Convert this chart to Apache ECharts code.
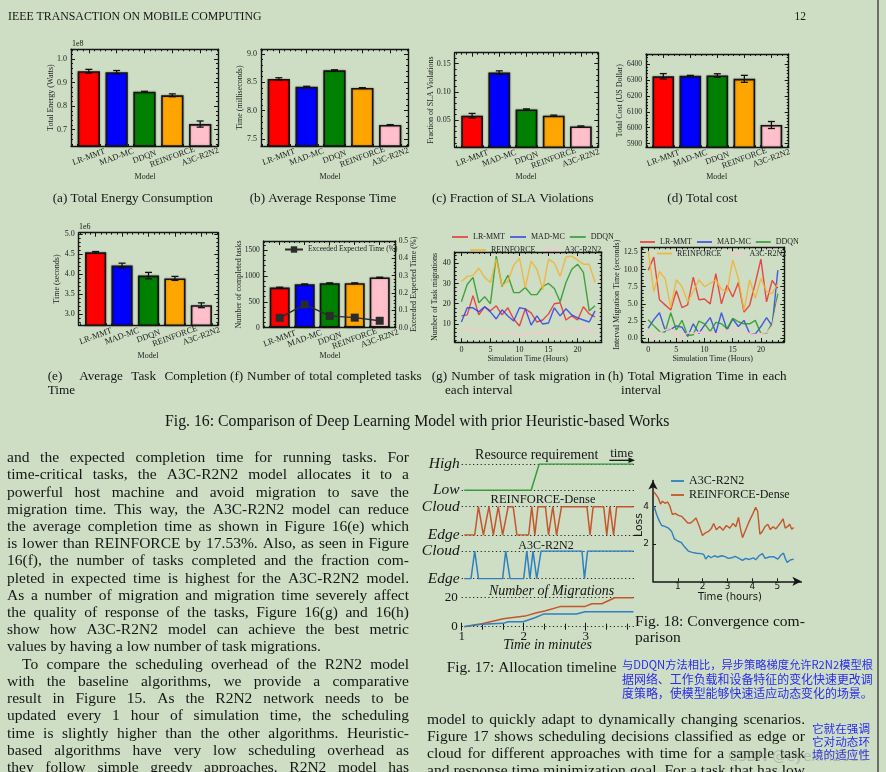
<!DOCTYPE html>
<html>
<head>
<meta charset="utf-8">
<title>Fig. 16 - 18</title>
<script src="https://cdn.jsdelivr.net/npm/echarts@6.0.0/dist/echarts.min.js"></script>
<style>
html, body { margin: 0; padding: 0; background: #cddec4; }
#page { width: 886px; height: 772px; }
</style>
</head>
<body>
<div id="page"></div>
<script>
// ---- data -------------------------------------------------------------
const models = ['LR-MMT', 'MAD-MC', 'DDQN', 'REINFORCE', 'A3C-R2N2'];

// (a)-(f): means and error bars per model
const energy = [0.948, 0.944, 0.861, 0.846, 0.724];
const energyErr = [0.008, 0.007, 0.002, 0.006, 0.013];
const respTime = [8.56, 8.42, 8.71, 8.40, 7.75];
const respErr = [0.02, 0.01, 0.01, 0.006, 0.006];
const slaFrac = [0.058, 0.134, 0.069, 0.058, 0.039];
const slaErr = [0.004, 0.003, 0.001, 0.001, 0.001];
const totalCost = [6323, 6326, 6328, 6307, 6017];
const costErr = [17, 3, 11, 22, 22];
const complTime = [4.54, 4.21, 3.96, 3.89, 3.22];
const complErr = [0.02, 0.06, 0.08, 0.05, 0.06];
const doneTasks = [775, 840, 860, 860, 970];
const doneErr = [8, 6, 6, 6, 6];
const exceeded = [0.057, 0.134, 0.068, 0.058, 0.040];

// (g), (h): per hour
const hours = [0, 1, 2, 3, 4, 5, 6, 7, 8, 9, 10, 11, 12, 13, 14, 15, 16, 17, 18, 19, 20, 21, 22, 23];
const migLR = [14, 14.5, 24, 14.5, 18.5, 16.5, 19, 14.5, 18, 12.5, 9, 17.5, 15.5, 11, 12, 15, 20, 20.5, 12, 14, 12, 18.5, 15, 13.5];
const migMAD = [11, 18, 18, 16, 18.5, 16, 12.5, 17, 14, 11.5, 18, 17.5, 9.5, 14, 10, 10.5, 18, 14, 17.5, 14.5, 13, 12, 11, 16.5];
const migDDQN = [21, 29.5, 33, 20.5, 23.5, 20, 43.5, 28.5, 34, 25.5, 25.5, 28, 24.5, 24.5, 28.5, 30, 27.5, 21, 30.5, 37, 39.5, 35.5, 16.5, 19];
const migRF = [31, 33.5, 34, 37.5, 33, 30.5, 42, 29, 31, 39, 42.5, 28, 41, 37, 27, 42, 40, 33.5, 43, 43.5, 41.5, 39.5, 39.5, 30.5];
const migA3C = [6, 8.5, 6, 7, 6, 6, 5.5, 6, 5.5, 5.5, 5, 4.5, 6, 5, 7.5, 5.5, 5, 7, 6, 8.5, 5.5, 9, 7, 5.5];
const mtLR = [9.9, 11.8, 5.6, 4.85, 4.1, 6.9, 4.45, 4.85, 8.9, 5.6, 5.7, 5.0, 9.4, 5.0, 7.7, 6.0, 8.1, 3.8, 4.8, 8.0, 11.5, 5.3, 8.4, 7.3];
const mtMAD = [1.45, 2.7, 3.7, 1.2, 1.3, 1.8, 1.6, 0.25, 2.1, 0.7, 1.9, 3.0, 0.8, 3.7, 1.2, 2.8, 1.7, 2.6, 0.7, 0.6, 1.7, 3.0, 1.8, 9.9];
const mtDDQN = [2.7, 1.8, 1.0, 0.9, 3.7, 1.2, 2.6, 0.4, 0.5, 2.5, 2.1, 1.0, 2.3, 2.1, 1.4, 2.9, 2.4, 2.1, 2.1, 2.6, 0.7, 0.7, 2.2, 6.5];
const mtRF = [12.7, 6.8, 9.7, 8.7, 4.5, 8.5, 7.5, 5.3, 6.8, 8.5, 7.5, 8.0, 8.5, 7.1, 6.8, 11.4, 8.7, 4.0, 8.5, 5.8, 8.7, 6.8, 6.5, 8.0];
const mtA3C = [0.7, 0.1, 0.8, 1.2, 1.4, 0.5, 0.2, 0.8, 0.7, 0.9, 0.7, 0.9, 0.6, 0.9, 1.2, 1.2, 1.2, 1.0, 0.7, 0.5, 0.7, 0.8, 1.7, 5.6];

// Fig. 17: [minute, level]; level 0 = Low/Edge, 1 = High/Cloud
const resource = [[1.04, 0], [2.12, 0], [2.25, 1], [3.77, 1]];
const allocRF = [[1.04, 0], [1.21, 0], [1.27, 1], [1.35, 0], [1.44, 1], [1.51, 0], [1.59, 1], [1.66, 0], [1.75, 1], [1.83, 1], [1.89, 0], [2.08, 0], [2.13, 1], [2.18, 0], [2.23, 1], [2.35, 1], [2.40, 0], [2.47, 1], [2.53, 0], [2.61, 1], [3.02, 1], [3.07, 0], [3.12, 1], [3.29, 1], [3.34, 0], [3.39, 1], [3.45, 0], [3.50, 1], [3.77, 1]];
const allocA3C = [[1.04, 0], [1.15, 0], [1.21, 1], [1.27, 0], [1.66, 0], [1.71, 1], [1.78, 0], [2.00, 0], [2.05, 1], [2.10, 0], [2.15, 1], [2.21, 0], [2.28, 1], [2.94, 1], [2.98, 0], [3.03, 1], [3.77, 1]];
const migCountRF = [[1.04, 0], [1.24, 1.2], [1.67, 5.5], [2.02, 7.3], [2.21, 9.6], [2.34, 10.8], [2.60, 14], [2.99, 14], [3.10, 15.8], [3.26, 15.8], [3.47, 20], [3.77, 20]];
const migCountA3C = [[1.04, 0], [1.24, 1.6], [1.67, 2.3], [1.75, 3.4], [1.99, 3.4], [2.18, 6.2], [2.32, 8.7], [2.85, 8.7], [2.99, 10.3], [3.77, 10.3]];

// Fig. 18: [hours, loss]
const lossA3C = [[0.04, 4.02], [0.15, 3.57], [0.26, 3.21], [0.35, 2.99], [0.48, 2.94], [0.62, 2.85], [0.75, 2.67], [0.86, 2.27], [0.99, 2.16], [1.13, 2.09], [1.26, 1.86], [1.42, 1.62], [1.58, 1.55], [1.76, 1.50], [1.93, 1.48], [2.04, 1.44], [2.12, 1.19], [2.23, 1.37], [2.34, 1.26], [2.47, 1.37], [2.60, 1.30], [2.77, 1.37], [2.90, 1.32], [3.03, 1.23], [3.17, 1.26], [3.30, 1.33], [3.46, 1.23], [3.60, 1.12], [3.73, 1.23], [3.87, 1.17], [4.04, 1.26], [4.13, 1.15], [4.27, 1.37], [4.40, 1.48], [4.51, 1.23], [4.67, 1.30], [4.85, 1.32], [5.02, 1.19], [5.15, 1.41], [5.25, 1.51], [5.32, 1.23], [5.40, 1.01], [5.52, 1.14], [5.66, 1.19]];
const lossRF = [[0.04, 4.79], [0.12, 4.76], [0.21, 4.47], [0.30, 4.14], [0.38, 4.29], [0.48, 4.18], [0.59, 4.25], [0.68, 4.02], [0.78, 3.57], [0.89, 3.64], [1.02, 3.53], [1.15, 3.48], [1.29, 3.28], [1.40, 3.12], [1.52, 3.12], [1.62, 3.24], [1.73, 3.39], [1.85, 2.99], [1.99, 2.45], [2.09, 2.58], [2.23, 2.67], [2.34, 2.81], [2.44, 3.10], [2.55, 2.76], [2.68, 2.94], [2.82, 2.74], [2.95, 2.99], [3.09, 2.85], [3.22, 3.10], [3.33, 2.92], [3.44, 3.42], [3.52, 2.81], [3.60, 2.34], [3.68, 2.41], [3.76, 2.85], [3.87, 3.21], [4.00, 3.57], [4.13, 3.96], [4.21, 3.75], [4.30, 2.52], [4.40, 2.67], [4.51, 2.94], [4.62, 3.06], [4.72, 2.77], [4.83, 2.92], [4.94, 2.81], [5.05, 2.99], [5.15, 3.17], [5.23, 3.35], [5.32, 2.85], [5.42, 2.94], [5.50, 3.06], [5.58, 2.79], [5.66, 2.88]];

// tick labels
const modelTicks = [0, 1, 2, 3, 4];
const energyTicks = [0.7, 0.8, 0.9, 1.0];
const respTicks = [7.5, 8.0, 8.5, 9.0];
const slaTicks = [0.05, 0.10, 0.15];
const costTicks = [5900, 6000, 6100, 6200, 6300, 6400];
const complTicks = [3.0, 3.5, 4.0, 4.5, 5.0];
const doneTicks = [0, 500, 1000, 1500];
const exceededTicks = [0, 0.1, 0.2, 0.3, 0.4, 0.5];
const hourTicks = [0, 5, 10, 15, 20];
const migTicks = [10, 20, 30, 40];
const mtTicks = [0, 2.5, 5.0, 7.5, 10.0, 12.5];
const minuteTicks = [1, 2, 3];
const lossHourTicks = [1, 2, 3, 4, 5];
const lossTicks = [2, 4];

// ---- styles -----------------------------------------------------------
const SERIF = '"Liberation Serif", "DejaVu Serif", serif';
const SANS = '"DejaVu Sans", sans-serif';
const CJK = '"Noto Sans CJK SC", sans-serif';
const INK = '#161616';
const barColors = ['#ff0000', '#0000ff', '#008000', '#ffa500', '#ffc0cb'];
const lineColors = ['rgba(236,40,40,0.82)', 'rgba(40,60,236,0.82)', 'rgba(40,150,40,0.85)', 'rgba(244,178,52,0.88)', 'rgba(250,196,206,0.95)'];
const figRed = '#c4562c', figBlue = '#2f7fc1', figGreen = '#3a9a3a';
const TICK_FONT = 8;

const grid = [], xAxis = [], yAxis = [], series = [], els = [];

function steps(a, b, d) {
  const out = [];
  for (let v = a; v <= b + d / 1000; v += d) out.push(Math.round(v * 1e6) / 1e6);
  return out;
}

function labelStyle(s, values) {
  return Object.assign({show: true, customValues: values, formatter: s.fmt, margin: 4, interval: 0,
    showMinLabel: true, showMaxLabel: true, hideOverlap: false,
    fontSize: TICK_FONT, fontFamily: SERIF, color: '#222'}, s.label || {});
}

function axis(gi, pos, s, labels, minor) {
  const a = {
    type: 'value', gridIndex: gi, position: pos, min: s.min, max: s.max,
    axisLine: {show: !minor, onZero: false, lineStyle: {color: INK, width: 1.4}},
    axisTick: {show: true, inside: true, length: minor ? 2 : 4, customValues: minor ? s.minor : s.major,
      lineStyle: {color: INK, width: 1}},
    axisLabel: {show: false},
    splitLine: {show: false}
  };
  if (labels) a.axisLabel = labelStyle(s, s.split ? s.major.filter((v, i) => i % 2 === 0) : s.major);
  return a;
}

// label-only axis for the odd category names, so none of them is dropped
function oddLabels(gi, s) {
  return {type: 'value', gridIndex: gi, position: 'bottom', min: s.min, max: s.max,
    axisLine: {show: false, onZero: false}, axisTick: {show: false}, splitLine: {show: false},
    axisLabel: labelStyle(s, s.major.filter((v, i) => i % 2 === 1))};
}

function panel(box, xs, ys, ys2) {
  const gi = grid.length;
  grid.push({left: box[0], top: box[1], width: box[2], height: box[3], show: false, outerBoundsMode: 'none'});
  const xi = xAxis.length;
  xAxis.push(axis(gi, 'bottom', xs, true), axis(gi, 'bottom', xs, false, true),
    axis(gi, 'top', xs, false), axis(gi, 'top', xs, false, true));
  if (xs.split) xAxis.push(oddLabels(gi, xs));
  const yi = yAxis.length;
  yAxis.push(axis(gi, 'left', ys, true), axis(gi, 'left', ys, false, true));
  const yi2 = yAxis.length;
  const r = ys2 || ys;
  yAxis.push(axis(gi, 'right', r, !!ys2), axis(gi, 'right', r, false, true));
  return {xi, yi, yi2};
}

const modelAxis = {min: -0.64, max: 4.64, major: modelTicks, minor: steps(-0.6, 4.6, 0.2), split: true,
  fmt: v => models[Math.round(v)],
  label: {rotate: 20, align: 'center', verticalAlign: 'middle', margin: 11, fontSize: 8.5}};
const hourAxis = {min: -1.15, max: 24.15, major: hourTicks, minor: steps(-1, 24, 1), fmt: v => String(v)};

function errRender(params, api) {
  const x = api.value(0);
  const lo = api.coord([x, api.value(1)]);
  const hi = api.coord([x, api.value(2)]);
  const c = 3.5;
  const st = {stroke: '#111', lineWidth: 1.3};
  return {type: 'group', children: [
    {type: 'line', shape: {x1: lo[0], y1: lo[1], x2: hi[0], y2: hi[1]}, style: st},
    {type: 'line', shape: {x1: lo[0] - c, y1: lo[1], x2: lo[0] + c, y2: lo[1]}, style: st},
    {type: 'line', shape: {x1: hi[0] - c, y1: hi[1], x2: hi[0] + c, y2: hi[1]}, style: st}
  ]};
}

function bars(p, vals, errs) {
  series.push({
    type: 'bar', xAxisIndex: p.xi, yAxisIndex: p.yi, barWidth: '80%', clip: true,
    itemStyle: {borderColor: '#141414', borderWidth: 1.6, shadowColor: 'rgba(0,0,0,0.35)', shadowBlur: 2},
    data: vals.map((v, i) => ({value: [i, v], itemStyle: {color: barColors[i]}}))
  });
  series.push({
    type: 'custom', xAxisIndex: p.xi, yAxisIndex: p.yi, z: 5, clip: false, renderItem: errRender,
    data: vals.map((v, i) => [i, v - errs[i], v + errs[i]])
  });
}

function lines(p, arrs) {
  arrs.forEach((arr, k) => series.push({
    type: 'line', name: models[k], xAxisIndex: p.xi, yAxisIndex: p.yi, symbol: 'none',
    lineStyle: {color: lineColors[k], width: 1.4}, itemStyle: {color: lineColors[k]},
    data: hours.map((h, i) => [h, arr[i]])
  }));
}

// ---- Fig. 16 panels -----------------------------------------------------
const pA = panel([71, 49.3, 147, 96.7], modelAxis,
  {min: 0.631, max: 1.041, major: energyTicks, minor: steps(0.64, 1.04, 0.02), fmt: v => v.toFixed(1)});
bars(pA, energy, energyErr);
const pB = panel([261, 49.3, 147, 96.7], modelAxis,
  {min: 7.38, max: 9.08, major: respTicks, minor: steps(7.4, 9.0, 0.1), fmt: v => v.toFixed(1)});
bars(pB, respTime, respErr);
const pC = panel([454.7, 52.7, 143.6, 94.6], modelAxis,
  {min: 0.0023, max: 0.169, major: slaTicks, minor: steps(0.01, 0.16, 0.01), fmt: v => v.toFixed(2)});
bars(pC, slaFrac, slaErr);
const pD = panel([646, 54, 142.7, 93.3], modelAxis,
  {min: 5877, max: 6463, major: costTicks, minor: steps(5880, 6460, 20), fmt: v => String(v), label: {fontSize: 7.5}});
bars(pD, totalCost, costErr);
const pE = panel([78.7, 232.7, 139.6, 92.6], modelAxis,
  {min: 2.72, max: 5.03, major: complTicks, minor: steps(2.8, 5.0, 0.1), fmt: v => v.toFixed(1)});
bars(pE, complTime, complErr);
const pF = panel([263.7, 241, 132, 86.7], modelAxis,
  {min: 0, max: 1675, major: doneTicks, minor: steps(0, 1600, 100), fmt: v => String(v), label: {fontSize: 7.5}},
  {min: 0, max: 0.5, major: exceededTicks, minor: steps(0, 0.5, 0.02), fmt: v => v.toFixed(1), label: {fontSize: 7.5, margin: 3}});
bars(pF, doneTasks, doneErr);
series.push({
  type: 'line', name: 'Exceeded Expected Time (%)', xAxisIndex: pF.xi, yAxisIndex: pF.yi2, z: 6,
  symbol: 'rect', symbolSize: 8, lineStyle: {color: '#2b2b2b', width: 1.4}, itemStyle: {color: '#2b2b2b'},
  data: exceeded.map((v, i) => [i, v])
});
const pG = panel([454.7, 252, 147, 90.3], hourAxis,
  {min: 1, max: 45.5, major: migTicks, minor: steps(2, 44, 2), fmt: v => String(v)});
lines(pG, [migLR, migMAD, migDDQN, migRF, migA3C]);
const pH = panel([641.7, 247.3, 142.6, 94.7], hourAxis,
  {min: -0.55, max: 13.23, major: mtTicks, minor: steps(-0.5, 13, 0.5), fmt: v => v.toFixed(1)});
lines(pH, [mtLR, mtMAD, mtDDQN, mtRF, mtA3C]);

// ---- Fig. 17 timeline ---------------------------------------------------
function tlPanel(top, height, ymax, names, extraLabel) {
  const gi = grid.length;
  grid.push({left: 461.7, top: top, width: 173.6, height: height, show: false, outerBoundsMode: 'none'});
  const xi = xAxis.length;
  xAxis.push({type: 'value', gridIndex: gi, min: 1, max: 3.8, show: false});
  const yi = yAxis.length;
  yAxis.push({
    type: 'value', gridIndex: gi, min: 0, max: ymax, interval: ymax,
    axisLine: {show: false}, axisTick: {show: false},
    axisLabel: Object.assign({formatter: v => names[v === 0 ? 0 : 1], margin: 2, fontSize: 15.5,
      showMinLabel: true, showMaxLabel: true, fontStyle: 'italic', fontFamily: SERIF, color: INK}, extraLabel || {}),
    splitLine: {show: true, lineStyle: {type: [1.2, 2.6], color: '#222', width: 1.1}}
  });
  return {gi, xi, yi};
}
function tlLine(p, data, color) {
  series.push({type: 'line', xAxisIndex: p.xi, yAxisIndex: p.yi, symbol: 'none', z: 4,
    lineStyle: {color: color, width: 1.5}, data: data});
}
const tRes = tlPanel(464, 26.3, 1, ['Low', 'High']);
tlLine(tRes, resource, figGreen);
const tRF = tlPanel(506.7, 28.3, 1, ['Edge', 'Cloud']);
tlLine(tRF, allocRF, figRed);
const tA3C = tlPanel(551, 27.7, 1, ['Edge', 'Cloud']);
tlLine(tA3C, allocA3C, figBlue);
const tMig = tlPanel(597.7, 29, 20, ['0', '20'], {fontStyle: 'normal', fontSize: 13, margin: 4});
tlLine(tMig, migCountRF, figRed);
tlLine(tMig, migCountA3C, figBlue);
[[false, 4, minuteTicks, true], [true, 4, minuteTicks, false], [false, 3, steps(1, 3.67, 1 / 3), false], [true, 3, steps(1, 3.67, 1 / 3), false]]
  .forEach(([inside, len, vals, lab]) => xAxis.push({
    type: 'value', gridIndex: tMig.gi, position: 'bottom', min: 1, max: 3.8,
    axisLine: {show: false, onZero: false},
    axisTick: {show: true, inside: inside, length: len, customValues: vals, lineStyle: {color: INK, width: 1}},
    axisLabel: lab ? {show: true, customValues: minuteTicks, margin: 3, interval: 0, showMinLabel: true, showMaxLabel: true,
      fontSize: 13, fontFamily: SERIF, color: INK} : {show: false},
    splitLine: {show: false}
  }));

// ---- Fig. 18 convergence ------------------------------------------------
const cg = grid.length;
grid.push({left: 653, top: 480.5, width: 148.4, height: 100.8, show: false, outerBoundsMode: 'none'});
const cxi = xAxis.length;
xAxis.push({
  type: 'value', gridIndex: cg, min: 0, max: 5.97, position: 'bottom',
  axisLine: {show: true, onZero: false, symbol: ['none', 'arrow'], symbolSize: [7, 9], lineStyle: {color: INK, width: 1.5}},
  axisTick: {show: true, inside: true, length: 3, customValues: lossHourTicks, lineStyle: {color: INK}},
  axisLabel: {show: true, customValues: lossHourTicks, interval: 0, margin: 1, fontSize: 9, fontFamily: SANS, color: INK},
  splitLine: {show: false}
});
const cyi = yAxis.length;
yAxis.push({
  type: 'value', gridIndex: cg, min: 0, max: 5.4, position: 'left',
  axisLine: {show: true, onZero: false, symbol: ['none', 'arrow'], symbolSize: [7, 9], lineStyle: {color: INK, width: 1.5}},
  axisTick: {show: true, inside: true, length: 3, customValues: lossTicks, lineStyle: {color: INK}},
  axisLabel: {show: true, customValues: lossTicks, interval: 0, margin: 4, fontSize: 9, fontFamily: SANS, color: INK},
  splitLine: {show: false}
});
series.push({type: 'line', name: 'A3C-R2N2 ', xAxisIndex: cxi, yAxisIndex: cyi, symbol: 'none',
  lineStyle: {color: figBlue, width: 1.4}, itemStyle: {color: figBlue}, data: lossA3C});
series.push({type: 'line', name: 'REINFORCE-Dense', xAxisIndex: cxi, yAxisIndex: cyi, symbol: 'none',
  lineStyle: {color: figRed, width: 1.4}, itemStyle: {color: figRed}, data: lossRF});

// ---- texts --------------------------------------------------------------
const mctx = document.createElement('canvas').getContext('2d');
function tw(str, size, fam, italic) {
  mctx.font = (italic ? 'italic ' : '') + size + 'px ' + fam;
  return mctx.measureText(str).width;
}
function T(str, x, y, size, o) {
  o = o || {};
  els.push({type: 'text', x: x, y: y, rotation: o.rot || 0, silent: true, z: 100,
    style: {text: str, fill: o.color || INK, opacity: o.opacity == null ? 1 : o.opacity,
      font: (o.italic ? 'italic ' : '') + size + 'px ' + (o.family || SERIF),
      align: o.align || 'left', verticalAlign: 'middle'}});
}
// text sized to span a given width
function fit(str, x, y, w, o) {
  o = o || {};
  const size = 20 * w / tw(str, 20, o.family || SERIF, o.italic);
  T(str, x, y, size, o);
  return size;
}
// justified line
function justify(str, x, y, w, size, o) {
  o = o || {};
  const fam = o.family || SERIF;
  const words = str.split(' ');
  let ws = words.map(s => tw(s, size, fam));
  const natural = ws.reduce((a, b) => a + b, 0) + tw(' ', size, fam) * 0.85 * (words.length - 1);
  if (natural > w) {
    size = size * w / natural;
    ws = words.map(s => tw(s, size, fam));
  }
  if (o.last || words.length < 2) { T(str, x, y, size, o); return; }
  const gap = (w - ws.reduce((a, b) => a + b, 0)) / (words.length - 1);
  let cx = x;
  words.forEach((s, i) => { T(s, cx, y, size, o); cx += ws[i] + gap; });
}

// page header
fit('IEEE TRANSACTION ON MOBILE COMPUTING', 8, 17, 254);
T('12', 806, 17, 11.5, {align: 'right'});
els.push({type: 'line', silent: true, shape: {x1: 878, y1: 0, x2: 878, y2: 772}, style: {stroke: '#4a4a4a', lineWidth: 1.5}});

// Fig. 16 axis titles
const ax = 8;
T('1e8', 72, 44, 8, {});
T('1e6', 79, 226.7, 8, {});
[['Total Energy (Watts)', 50.7, 97.6], ['Time (milliseconds)', 240, 97.6], ['Fraction of SLA Violations', 430.7, 100],
 ['Total Cost (US Dollar)', 620, 100.7], ['Time (seconds)', 57.3, 279], ['Number of completed tasks', 239, 284.4],
 ['Exceeded Expected Time (%)', 413.5, 284.4], ['Number of Task migrations', 435, 297],
 ['Interval Migration Time (seconds)', 617, 294.7]].forEach(([s, x, y]) =>
  T(s, x, y, ax, {rot: Math.PI / 2, align: 'center', color: '#222'}));
[[145, 177.3], [330, 177.3], [526, 177.3], [716.7, 177.3], [148, 356], [330, 356]].forEach(([x, y]) =>
  T('Model', x, y, ax, {align: 'center', color: '#222'}));
T('Simulation Time (Hours)', 527.7, 359, ax, {align: 'center', color: '#222'});
T('Simulation Time (Hours)', 712.7, 359, ax, {align: 'center', color: '#222'});

// sub-captions
const capSize = fit('(a) Total Energy Consumption', 52.7, 199, 160.3);
T('(b) Average Response Time', 323, 199, capSize, {align: 'center'});
T('(c) Fraction of SLA Violations', 512.7, 199, capSize, {align: 'center'});
T('(d) Total cost', 702.3, 199, capSize, {align: 'center'});
justify('(e)  Average Task Completion', 47.7, 377, 179, capSize);
T('Time', 47.7, 391, capSize);
justify('(f) Number of total completed tasks', 230, 377, 191.7, capSize);
justify('(g) Number of task migration in', 431.7, 377, 173.3, capSize);
T('each interval', 445, 391, capSize);
justify('(h) Total Migration Time in each', 608, 377, 178.7, capSize);
T('interval', 621, 391, capSize);
fit('Fig. 16: Comparison of Deep Learning Model with prior Heuristic-based Works', 165, 422, 505);

// Fig. 17 annotations
T('Resource requirement', 536.7, 455, 14, {align: 'center'});
T('time', 621.7, 453.5, 13, {align: 'center'});
els.push({type: 'line', silent: true, shape: {x1: 609.3, y1: 460.3, x2: 630, y2: 460.3}, style: {stroke: INK, lineWidth: 1.3}});
els.push({type: 'polygon', silent: true, shape: {points: [[635, 460.3], [628.5, 457.6], [628.5, 463]]}, style: {fill: INK}});
T('REINFORCE-Dense', 543, 500, 12.5, {align: 'center'});
T('A3C-R2N2', 546, 545.5, 12, {align: 'center'});
T('Number of Migrations', 551.5, 591.7, 14, {align: 'center', italic: true});
T('Time in minutes', 547.5, 645, 14, {align: 'center', italic: true});
fit('Fig. 17: Allocation timeline', 446.7, 668.3, 170);

// Fig. 18 annotations
fit('Loss', 639, 537, 24, {family: SANS, rot: Math.PI / 2});
fit('Time (hours)', 698, 597.5, 64, {family: SANS});
const f18 = fit('Fig. 18: Convergence com-', 635, 621.7, 170);
T('parison', 635, 638.3, f18);

// body text, left column
const leftLines = [
  'and the expected completion time for running tasks. For',
  'time-critical tasks, the A3C-R2N2 model allocates it to a',
  'powerful host machine and avoid migration to save the',
  'migration time. This way, the A3C-R2N2 model can reduce',
  'the average completion time as shown in Figure 16(e) which',
  'is lower than REINFORCE by 17.53%. Also, as seen in Figure',
  '16(f), the number of tasks completed and the fraction com-',
  'pleted in expected time is highest for the A3C-R2N2 model.',
  'As a number of migration and migration time severely affect',
  'the quality of response of the tasks, Figure 16(g) and 16(h)',
  'show how A3C-R2N2 model can achieve the best metric',
  'values by having a low number of task migrations.',
  'To compare the scheduling overhead of the R2N2 model',
  'with the baseline algorithms, we provide a comparative',
  'result in Figure 15. As the R2N2 network needs to be',
  'updated every 1 hour of simulation time, the scheduling',
  'time is slightly higher than the other algorithms. Heuristic-',
  'based algorithms have very low scheduling overhead as',
  'they follow simple greedy approaches. R2N2 model has'
];
leftLines.forEach((s, i) => {
  const indent = i === 12 ? 15 : 0;
  justify(s, 7 + indent, 458 + 17.22 * i, 402 - indent, 15.5, {last: i === 11});
});
const rightLines = [
  'model to quickly adapt to dynamically changing scenarios.',
  'Figure 17 shows scheduling decisions classified as edge or',
  'cloud for different approaches with time for a sample task',
  'and response time minimization goal. For a task that has low'
];
rightLines.forEach((s, i) => justify(s, 427, 720 + 17 * i, 378, 15.5));

// reader annotations
const note = '#2a2af0';
['与DDQN方法相比，异步策略梯度允许R2N2模型根', '据网络、工作负载和设备特征的变化快速更改调', '度策略，使模型能够快速适应动态变化的场景。']
  .forEach((s, i) => fit(s, 622, 665 + 14 * i, 251, {family: CJK, color: note}));
['它就在强调', '它对动态环', '境的适应性'].forEach((s, i) => fit(s, 812, 729 + 13 * i, 58, {family: CJK, color: note}));
fit('CSDN @eyexin2018', 728, 757, 140, {family: SANS, color: '#8a8a8a', opacity: 0.45});

// ---- chart ---------------------------------------------------------------
const legendText = {fontSize: 8, fontFamily: SERIF, color: '#222'};
const lineIcon = {icon: 'rect', itemHeight: 1.8};
const chart = echarts.init(document.getElementById('page'), null, {renderer: 'canvas'});
chart.setOption({
  backgroundColor: '#cddec4',
  animation: false,
  textStyle: {fontFamily: SERIF},
  grid: grid,
  xAxis: xAxis,
  yAxis: yAxis,
  legend: [
    Object.assign({left: 452, top: 233, padding: 0, itemWidth: 16, itemGap: 5, selectedMode: false, textStyle: legendText, data: ['LR-MMT', 'MAD-MC', 'DDQN']}, lineIcon),
    Object.assign({left: 470, top: 246, padding: 0, itemWidth: 16, itemGap: 8, selectedMode: false, textStyle: legendText, data: ['REINFORCE', 'A3C-R2N2']}, lineIcon),
    Object.assign({left: 640, top: 238, padding: 0, itemWidth: 15, itemGap: 5, selectedMode: false, textStyle: legendText, data: ['LR-MMT', 'MAD-MC', 'DDQN']}, lineIcon),
    Object.assign({left: 657, top: 249.5, padding: 0, itemWidth: 15, itemGap: 8, selectedMode: false, textStyle: legendText, data: ['REINFORCE', 'A3C-R2N2']}, lineIcon),
    {left: 284, top: 245.5, padding: 0, itemWidth: 18, itemHeight: 8, selectedMode: false,
      textStyle: {fontSize: 7.5, fontFamily: SERIF, color: '#222'}, data: ['Exceeded Expected Time (%)']},
    Object.assign({left: 671, top: 475, padding: 0, orient: 'vertical', itemWidth: 13, itemGap: 2, selectedMode: false,
      textStyle: {fontSize: 12, fontFamily: SERIF, color: INK}, data: ['A3C-R2N2 ', 'REINFORCE-Dense']}, lineIcon)
  ],
  series: series,
  graphic: {elements: els}
});
</script>
</body>
</html>
